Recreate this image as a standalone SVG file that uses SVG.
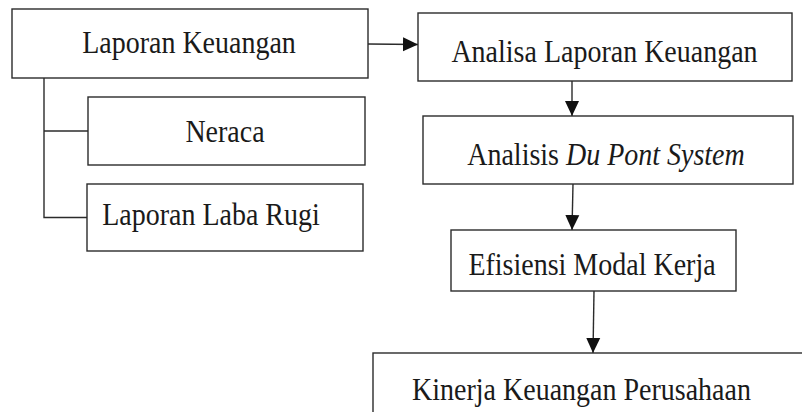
<svg xmlns="http://www.w3.org/2000/svg" width="802" height="412" viewBox="0 0 802 412">
<style>
.box{fill:#fff;stroke:#2b2b2b;stroke-width:1.4}
.lbl{font-family:"Liberation Serif","Times New Roman",serif;font-size:28px;fill:#1a1a1a}
.c{fill:none;stroke:#2b2b2b;stroke-width:1.4}
.a{fill:none;stroke:#2b2b2b;stroke-width:1.4;marker-end:url(#ah)}
</style>
<defs>
<marker id="ah" markerUnits="userSpaceOnUse" markerWidth="16" markerHeight="16" viewBox="0 0 16 16" refX="15" refY="8" orient="auto">
<path d="M0,1 L15,8 L0,15 Z" fill="#111"/>
</marker>
</defs>
<rect width="802" height="412" fill="#fff"/>
<g id="connectors">
<path class="c" d="M44,78 V217.5 H87"/>
<path class="c" d="M44,131 H88"/>
<path class="a" d="M368,44 L418,44.5"/>
<path class="a" d="M572,81 V116"/>
<path class="a" d="M573,184 L572,230"/>
<path class="a" d="M594,291 L593,353"/>
</g>
<g id="laporan-keuangan">
<rect class="box" x="12" y="9" width="356" height="69"/>
<text class="lbl" text-anchor="middle" transform="translate(189,52.5) scale(1,1.1)">Laporan Keuangan</text>
</g>
<g id="neraca">
<rect class="box" x="88" y="97" width="277" height="68"/>
<text class="lbl" text-anchor="middle" transform="translate(225,141.7) scale(1,1.1)">Neraca</text>
</g>
<g id="laporan-laba-rugi">
<rect class="box" x="87" y="184" width="276" height="67"/>
<text class="lbl" text-anchor="middle" transform="translate(211,225) scale(1,1.1)">Laporan Laba Rugi</text>
</g>
<g id="analisa-laporan-keuangan">
<rect class="box" x="418" y="13" width="374" height="68"/>
<text class="lbl" text-anchor="middle" transform="translate(604.5,61.7) scale(1,1.1)">Analisa Laporan Keuangan</text>
</g>
<g id="analisis-du-pont">
<rect class="box" x="423" y="116" width="370" height="68"/>
<text class="lbl" text-anchor="middle" transform="translate(606,165) scale(1,1.1)">Analisis <tspan font-style="italic">Du Pont System</tspan></text>
</g>
<g id="efisiensi-modal-kerja">
<rect class="box" x="451" y="230" width="285" height="61"/>
<text class="lbl" text-anchor="middle" transform="translate(592,275) scale(1,1.1)">Efisiensi Modal Kerja</text>
</g>
<g id="kinerja-keuangan-perusahaan">
<rect class="box" x="373" y="353" width="440" height="70"/>
<text class="lbl" text-anchor="middle" transform="translate(581.5,399.8) scale(1,1.1)">Kinerja Keuangan Perusahaan</text>
</g>
</svg>
